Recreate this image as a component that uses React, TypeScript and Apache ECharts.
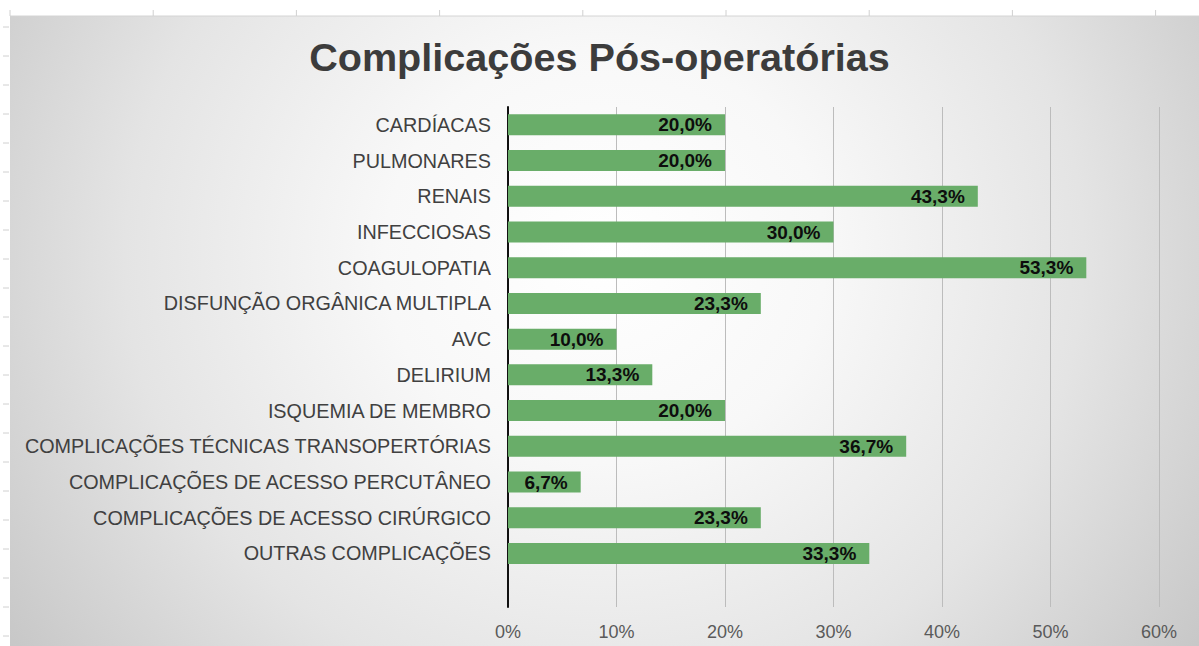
import React, { useEffect, useRef } from "react";
import * as echarts from "echarts";

const titleText = "Complicações Pós-operatórias";
const categories = [
  "CARDÍACAS",
  "PULMONARES",
  "RENAIS",
  "INFECCIOSAS",
  "COAGULOPATIA",
  "DISFUNÇÃO ORGÂNICA MULTIPLA",
  "AVC",
  "DELIRIUM",
  "ISQUEMIA DE MEMBRO",
  "COMPLICAÇÕES TÉCNICAS TRANSOPERTÓRIAS",
  "COMPLICAÇÕES DE ACESSO PERCUTÂNEO",
  "COMPLICAÇÕES DE ACESSO CIRÚRGICO",
  "OUTRAS COMPLICAÇÕES",
];
const values = [20.0, 20.0, 43.3, 30.0, 53.3, 23.3, 10.0, 13.3, 20.0, 36.7, 6.7, 23.3, 33.3];
const xTicks = [0, 10, 20, 30, 40, 50, 60];

const FONT = "'Liberation Sans', Arial, Helvetica, sans-serif";

export default function App() {
  const ref = useRef<HTMLDivElement>(null);
  useEffect(() => {
    if (!ref.current) return;
    const chart = echarts.init(ref.current, null, { renderer: "svg" });

    const decor: any[] = [];
    decor.push({
      type: "line",
      shape: { x1: 10, y1: 16, x2: 1199, y2: 16 },
      style: { stroke: "#d4d4d4", lineWidth: 1 },
      silent: true,
    });
    for (let i = 0; i < 9; i++) {
      const x = 10 + i * 143.2;
      decor.push({
        type: "line",
        shape: { x1: x, y1: 10, x2: x, y2: 16 },
        style: { stroke: "#d0d0d0", lineWidth: 1 },
        silent: true,
      });
    }
    for (let i = 0; i < 22; i++) {
      const y = 27 + i * 29;
      decor.push({
        type: "line",
        shape: { x1: 3, y1: y, x2: 9, y2: y },
        style: { stroke: "#d0d0d0", lineWidth: 1 },
        silent: true,
      });
    }

    const yData = [...categories, ""];
    const seriesData = [...values, null];

    chart.setOption({
      animation: false,
      backgroundColor: "transparent",
      title: {
        text: titleText,
        left: "center",
        top: 32,
        textStyle: {
          fontFamily: FONT,
          fontSize: 39.6,
          fontWeight: "bold",
          color: "#3c3c3c",
        },
      },
      grid: { left: 508, right: 40, top: 107, bottom: 39, containLabel: false },
      xAxis: {
        type: "value",
        min: xTicks[0],
        max: xTicks[xTicks.length - 1],
        interval: 10,
        axisLine: { show: false },
        axisTick: { show: false },
        splitLine: { show: true, lineStyle: { color: "#bcbcbc", width: 1 } },
        axisLabel: {
          formatter: (v: number) => `${v}%`,
          fontFamily: FONT,
          fontSize: 18,
          color: "#5a5a5a",
          margin: 16,
        },
      },
      yAxis: {
        type: "category",
        inverse: true,
        data: yData,
        axisLine: { show: true, lineStyle: { color: "#111", width: 2 } },
        axisTick: { show: false },
        axisLabel: {
          fontFamily: FONT,
          fontSize: 19.8,
          color: "#404040",
          margin: 17,
        },
      },
      series: [
        {
          type: "bar",
          data: seriesData,
          barWidth: 21,
          itemStyle: { color: "#69ad69" },
          label: {
            show: true,
            position: "insideRight",
            distance: 13,
            formatter: (p: any) =>
              p.value == null ? "" : `${Number(p.value).toFixed(1).replace(".", ",")}%`,
            fontFamily: FONT,
            fontSize: 19,
            fontWeight: "bold",
            color: "#0d0d0d",
          },
        },
      ],
      graphic: decor,
    });
    return () => chart.dispose();
  }, []);

  return (
    <div
      style={{
        position: "fixed",
        left: 0,
        top: 0,
        width: 1199,
        height: 646,
        background: "#ffffff",
      }}
    >
      <div
        style={{
          position: "absolute",
          left: 10,
          top: 16,
          width: 1189,
          height: 630,
          background:
            "radial-gradient(ellipse 62% 110% at 50% 38%, #ffffff 0%, #f8f8f8 30%, #e4e4e4 65%, #c6c6c6 100%)",
        }}
      />
      <div ref={ref} style={{ position: "absolute", left: 0, top: 0, width: 1199, height: 646 }} />
    </div>
  );
}
